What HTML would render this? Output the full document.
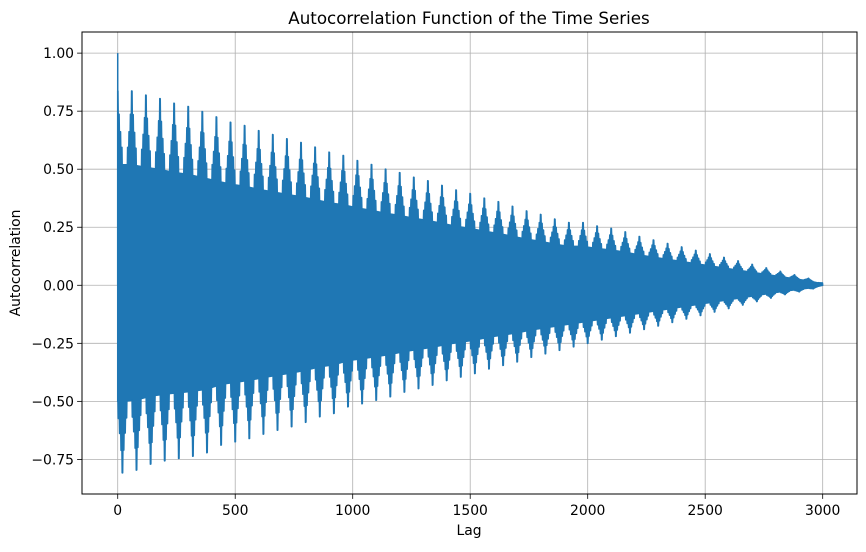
<!DOCTYPE html>
<html><head><meta charset="utf-8"><style>
body{margin:0;background:#fff;}
svg text{font-family:"DejaVu Sans","Liberation Sans",sans-serif;fill:#000;}
</style></head><body>
<svg id="chart" width="866" height="547" viewBox="0 0 866 547" xmlns="http://www.w3.org/2000/svg">
<text x="469" y="24" font-size="16.7" text-anchor="middle">Autocorrelation Function of the Time Series</text>
<g id="grid"></g>
<g id="plot"></g>
<rect x="82" y="32" width="775" height="462" fill="none" stroke="#000" stroke-width="1"/>
<g id="ticks"></g>
<text x="469" y="535" font-size="13.9" text-anchor="middle">Lag</text>
<text x="20" y="263" font-size="13.9" text-anchor="middle" transform="rotate(-90 20 263)">Autocorrelation</text>
</svg>
<script>
const xTicks=[0,500,1000,1500,2000,2500,3000];
const yTicks=[1.00,0.75,0.50,0.25,0.00,-0.25,-0.50,-0.75];
const yTickLabels=["1.00","0.75","0.50","0.25","0.00","−0.25","−0.50","−0.75"];
const maxLag=3000;
const period=60;
const lowerOffset=20;
const lag0Value=1.00;
const upperPeaks=[0.837,0.819,0.804,0.784,0.77,0.748,0.725,0.702,0.688,0.666,0.649,0.631,0.615,0.595,0.573,0.559,0.537,0.52,0.50,0.485,0.465,0.45,0.43,0.41,0.395,0.375,0.36,0.34,0.32,0.305,0.285,0.27,0.27,0.255,0.245,0.23,0.21,0.195,0.18,0.165,0.15,0.135,0.12,0.105,0.09,0.075,0.06,0.045,0.03,0.01];
const lowerPeaks=[-0.808,-0.796,-0.77,-0.756,-0.746,-0.736,-0.721,-0.688,-0.674,-0.66,-0.641,-0.624,-0.609,-0.59,-0.566,-0.552,-0.523,-0.51,-0.495,-0.48,-0.46,-0.445,-0.43,-0.41,-0.395,-0.38,-0.36,-0.345,-0.33,-0.31,-0.295,-0.28,-0.265,-0.25,-0.235,-0.22,-0.205,-0.19,-0.175,-0.16,-0.145,-0.13,-0.115,-0.10,-0.085,-0.07,-0.055,-0.04,-0.028,-0.015];

const NS="http://www.w3.org/2000/svg";
const X0=82,X1=857,Y0=32,Y1=494;
const xmin=-152,xmax=3146,ymin=-0.899,ymax=1.091;
function xs(v){return X0+(v-xmin)/(xmax-xmin)*(X1-X0);}
function ys(v){return Y1-(v-ymin)/(ymax-ymin)*(Y1-Y0);}
function mk(tag,attrs,parent){const e=document.createElementNS(NS,tag);for(const k in attrs)e.setAttribute(k,attrs[k]);parent.appendChild(e);return e;}
const grid=document.getElementById('grid'),ticks=document.getElementById('ticks'),plot=document.getElementById('plot');
xTicks.forEach((t,i)=>{
  const gl=mk('line',{x1:xs(t),x2:xs(t),y1:Y0,y2:Y1,stroke:'#b0b0b0','stroke-width':0.8},grid);
  
  
  const tk=mk('line',{x1:xs(t),x2:xs(t),y1:Y1,y2:Y1+4.9,stroke:'#000','stroke-width':0.8},ticks);
  
  
  const tx=mk('text',{x:xs(t),y:Y1+21,'font-size':13.9,'text-anchor':'middle'},ticks);
  tx.textContent=String(t);
  
  
});
yTicks.forEach((t,i)=>{
  const gl=mk('line',{x1:X0,x2:X1,y1:ys(t),y2:ys(t),stroke:'#b0b0b0','stroke-width':0.8},grid);
  
  
  const tk=mk('line',{x1:X0-4.9,x2:X0,y1:ys(t),y2:ys(t),stroke:'#000','stroke-width':0.8},ticks);
  
  
  const tx=mk('text',{x:X0-8,y:ys(t)+5,'font-size':13.9,'text-anchor':'end'},ticks);
  tx.textContent=yTickLabels[i];
  
  
});
function envAt(lag,peaks,offset){
  const pos=(lag-offset)/period;
  const base=offset?0:1;
  const f=pos-base;
  if(f<=0)return peaks[0];
  const j=Math.floor(f);
  if(j>=peaks.length-1){
    const lastLag=offset+period*(peaks.length-1+base);
    const t=Math.min(1,(lag-lastLag)/Math.max(1,maxLag-lastLag));
    return peaks[peaks.length-1]*(1-t);
  }
  const t=f-j;return peaks[j]*(1-t)+peaks[j+1]*t;
}
function frac(d){return d<1.5?1:d<7?0.88:d<13?0.79:d<19?0.71:0.62;}
const up=[],lo=[];
for(let lag=0;lag<=maxLag;lag++){
  let du=lag%period;du=Math.min(du,period-du);
  let dl=((lag-lowerOffset)%period+period)%period;dl=Math.min(dl,period-dl);
  let u=envAt(lag,upperPeaks,0)*frac(du);
  let l=envAt(lag,lowerPeaks,lowerOffset)*frac(dl);
  if(lag>=maxLag){u=0;l=0;}
  up.push([xs(lag),ys(u)]);lo.push([xs(lag),ys(l)]);
}
let d='M'+up.map(p=>p[0].toFixed(2)+','+p[1].toFixed(2)).join('L');
d+='L'+lo.slice().reverse().map(p=>p[0].toFixed(2)+','+p[1].toFixed(2)).join('L')+'Z';
const band=mk('path',{d:d,fill:'#1f77b4',stroke:'#1f77b4','stroke-width':1.5,'stroke-linejoin':'round'},plot);


const sp=mk('line',{x1:xs(0),x2:xs(0),y1:ys(lag0Value),y2:ys(0),stroke:'#1f77b4','stroke-width':1.5},plot);


</script>
</body></html>
